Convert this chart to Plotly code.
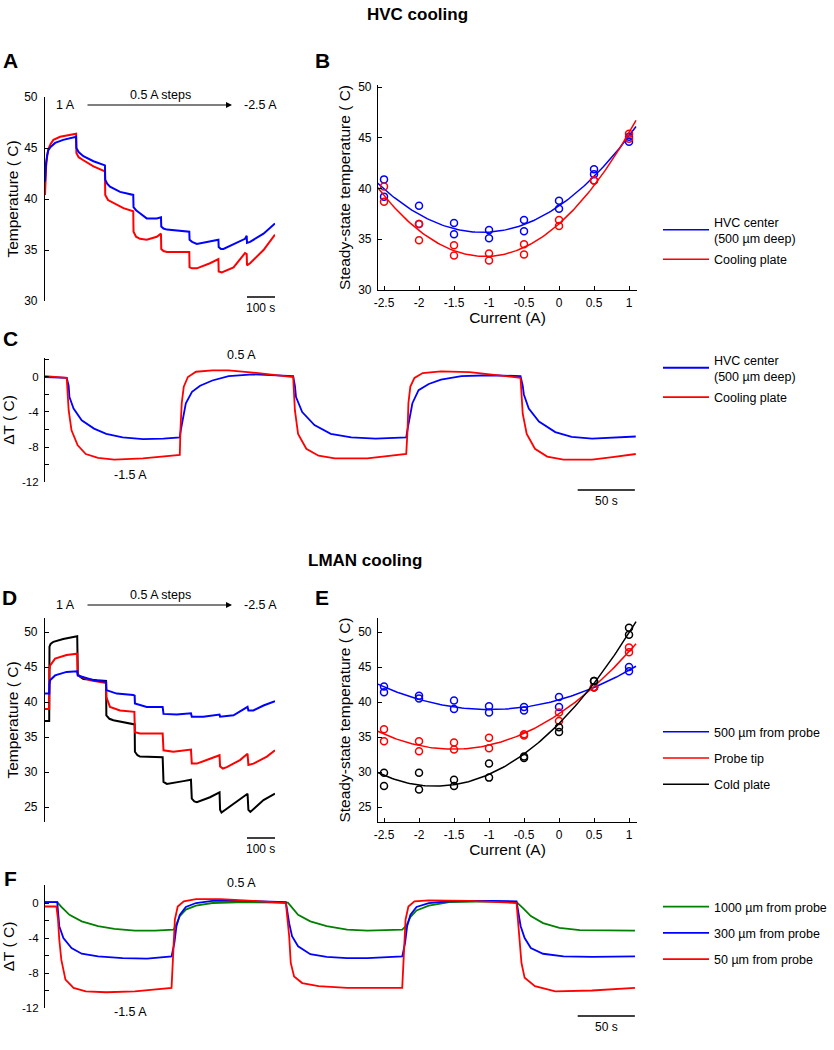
import numpy as np
import plotly.graph_objects as go

W, H = 834, 1050
FONT = "Arial, Liberation Sans, sans-serif"

COLORS = {
    "blue"  : "#0000FF",
    "red"   : "#FF0000",
    "green" : "#008000",
    "black" : "#000000",
}

# ---------------- A : HVC cooling, 0.5 A steps (time in s, temperature in C)
A_T_BLUE = [0, 2, 4, 8, 12, 20, 36, 65, 111,
            112, 120, 137, 173, 214,
            215, 222, 232, 268, 315,
            316, 325, 339, 363, 399, 414,
            415, 423, 435, 470, 515,
            516, 525, 542, 577, 619,
            620, 628, 637, 673, 714, 720,
            721, 732, 780, 821]
A_BLUE = [41.7, 42.8, 43.6, 44.3, 44.8, 45.1, 45.5, 45.8, 46.1,
          45.0, 44.6, 44.2, 43.7, 43.3,
          41.9, 41.5, 41.2, 40.7, 40.4,
          39.2, 38.9, 38.6, 38.1, 38.1, 38.2,
          37.3, 37.1, 37.0, 36.9, 36.8,
          36.0, 35.8, 35.6, 35.8, 36.0,
          35.3, 35.1, 35.1, 35.6, 36.1, 36.4,
          35.7, 35.8, 36.6, 37.6]
A_T_RED = [0, 2, 4, 8, 12, 20, 30, 54, 111,
           112, 120, 137, 173, 214,
           215, 225, 244, 280, 315,
           316, 325, 339, 363, 399, 414,
           415, 423, 435, 470, 515,
           516, 525, 542, 589, 619,
           620, 631, 673, 714, 720,
           721, 732, 780, 821]
A_RED = [40.4, 42.0, 43.2, 44.3, 44.9, 45.4, 45.8, 46.1, 46.4,
         44.5, 44.1, 43.8, 43.2, 42.7,
         40.4, 39.9, 39.6, 39.1, 38.8,
         36.8, 36.3, 36.1, 36.0, 36.3, 36.6,
         35.1, 34.9, 34.8, 34.8, 34.8,
         33.3, 33.2, 33.2, 33.7, 34.1,
         32.9, 32.8, 33.3, 34.7, 34.6,
         33.5, 33.7, 35.0, 36.5]

# ---------------- B : HVC steady state vs current
B_CURRENT = [-2.5, -2.5, -2, -2, -1.5, -1.5, -1, -1, -0.5, -0.5, 0, 0, 0.5, 0.5, 1, 1]
B_BLUE = [40.9, 39.2, 38.3, 36.5, 36.6, 35.5, 35.9, 35.1, 36.9, 35.8, 38.8, 38.0, 41.9, 41.4, 45.1, 44.6]
B_RED = [40.2, 38.7, 36.5, 34.9, 34.4, 33.4, 33.6, 32.9, 34.5, 33.5, 36.9, 36.3, 40.8, 40.8, 45.4, 44.9]

# ---------------- C : HVC, alternating -1.5 A / 0.5 A (delta T)
C_T_BLUE = [0, 19, 20.7, 21.4, 25, 32.1, 42.9, 53.6, 67.9, 85.7, 103.6, 117.9,
            118.9, 120.4, 123.2, 128.6, 135.7, 146.4, 160.7, 182, 203.6, 217.1,
            218.6, 219.6, 225, 235.7, 250, 267.9, 289.3, 316,
            317.1, 318.6, 321.4, 326.8, 335.7, 346.4, 364.3, 389.3, 416,
            417.9, 418.9, 423.2, 432.1, 446.4, 460.7, 478.6, 496.4, 516.8]
C_BLUE = [0, -0.1, -1.0, -2.3, -3.6, -4.95, -5.9, -6.5, -6.9, -7.1, -7.05, -6.9,
          -6.0, -5.0, -3.0, -1.7, -1.0, -0.4, 0.1, 0.3, 0.2, 0.1,
          -1.0, -2.3, -4.0, -5.5, -6.5, -6.9, -7.05, -6.9,
          -6.0, -5.0, -3.0, -1.5, -0.8, -0.3, 0.1, 0.2, 0.1,
          -1.0, -2.0, -3.6, -5.1, -6.3, -6.85, -7.05, -6.9, -6.8]
C_T_RED = [0, 19, 20.7, 23.2, 28.6, 35.7, 46.4, 60.7, 85.7, 117.9,
           118.5, 119.6, 121.4, 125, 132.1, 146.4, 160.7, 182, 217.1,
           218.6, 221.4, 228.6, 239.3, 253.6, 282, 316,
           317.2, 317.9, 319.6, 323.2, 330.4, 346.4, 371.4, 416,
           417.9, 421.4, 428.6, 439.3, 453.6, 478.6, 496.4, 516.8]
C_RED = [0.1, -0.1, -3.8, -6.1, -7.8, -8.8, -9.25, -9.45, -9.3, -8.9,
         -6.0, -3.0, -1.1, 0, 0.6, 0.75, 0.75, 0.5, 0,
         -3.8, -6.5, -8.2, -9.0, -9.3, -9.3, -8.8,
         -6.0, -3.0, -1.1, -0.1, 0.45, 0.65, 0.55, -0.1,
         -4.2, -6.5, -8.2, -9.1, -9.45, -9.45, -9.15, -8.8]

# ---------------- D : LMAN cooling, 0.5 A steps
D_T_BLACK = [0, 15, 16, 20, 30, 65, 115,
             117, 125, 137, 185, 218,
             219, 230, 244, 315, 320,
             321, 330, 339, 420,
             423, 435, 494, 521,
             524, 533, 542, 589, 623,
             625, 630, 673, 723,
             726, 733, 780, 821]
D_BLACK = [37.3, 37.3, 47.9, 48.3, 48.6, 49.0, 49.4,
           44.0, 43.6, 43.3, 43.1, 43.0,
           38.1, 37.6, 37.4, 36.9, 36.8,
           32.9, 32.4, 32.2, 32.1,
           28.6, 28.3, 28.7, 28.9,
           26.2, 25.8, 25.7, 26.4, 27.1,
           24.6, 24.2, 25.5, 26.9,
           24.6, 24.3, 26.0, 26.9]
D_T_RED = [0, 15, 16, 18, 36, 77, 115,
           117, 161, 218,
           219, 232, 268, 319,
           321, 339, 420,
           423, 458, 521,
           524, 542, 589, 623,
           625, 635, 649, 696, 723,
           726, 744, 792, 821]
D_RED = [39.0, 39.0, 44.5, 45.2, 46.2, 46.7, 46.9,
         43.8, 43.1, 42.7,
         40.7, 39.3, 38.8, 38.6,
         35.7, 35.5, 35.5,
         33.1, 32.9, 33.2,
         31.2, 31.2, 31.9, 32.4,
         30.8, 30.5, 30.7, 31.7, 32.6,
         31.0, 31.2, 32.2, 33.1]
D_T_BLUE = [0, 15, 16, 18, 36, 77, 115,
            117, 173, 218,
            219, 256, 315, 320,
            321, 363, 420,
            423, 470, 521,
            524, 565, 623,
            625, 673, 723,
            726, 744, 780, 821]
D_BLUE = [41.2, 41.2, 42.5, 43.1, 43.8, 44.3, 44.4,
          43.8, 43.1, 42.9,
          41.7, 41.2, 41.0, 40.9,
          39.8, 39.3, 39.3,
          38.3, 38.2, 38.4,
          37.9, 37.9, 38.2,
          37.9, 38.1, 39.3,
          38.8, 38.8, 39.5, 40.1]

# ---------------- E : LMAN steady state vs current
E_CURRENT = [-2.5, -2.5, -2, -2, -1.5, -1.5, -1, -1, -0.5, -0.5, 0, 0, 0.5, 0.5, 1, 1]
E_BLUE = [42.2, 41.4, 40.9, 40.5, 40.2, 39.0, 39.4, 38.5, 39.3, 38.8, 40.7, 39.3, 42.1, 42.1, 45.0, 44.4]
E_RED = [36.1, 34.4, 34.4, 32.95, 34.2, 33.2, 34.9, 33.4, 35.4, 35.2, 38.5, 37.3, 42.1, 42.1, 47.8, 47.1]
E_BLACK = [29.9, 28.0, 29.9, 27.5, 28.9, 28.0, 31.2, 29.2, 32.2, 32.0, 36.4, 35.7, 43.0, 43.0, 50.6, 49.6]

# ---------------- F : LMAN, alternating -1.5 A / 0.5 A
F_T_GREEN = [0, 10.7, 14.3, 21.4, 32.1, 46.4, 60.7, 78.6, 96.4, 112.5,
             114.3, 117.9, 123.2, 132.1, 146.4, 175, 212.5,
             216.1, 221.4, 232.1, 246.4, 264.3, 282.1, 312.5,
             316.1, 319.6, 325, 335.7, 353.6, 389.3, 412.5,
             417.9, 425, 435.7, 450, 467.9, 496.4, 516.1]
F_GREEN = [0.1, 0.1, -0.45, -1.35, -2.1, -2.65, -2.95, -3.15, -3.15, -3.05,
           -2.6, -1.5, -0.75, -0.3, 0, 0.1, 0.05,
           -0.55, -1.35, -2.1, -2.65, -3.05, -3.15, -3.05,
           -2.6, -1.6, -0.85, -0.3, 0.1, 0.2, 0.1,
           -0.55, -1.5, -2.3, -2.85, -3.1, -3.15, -3.15]
F_T_BLUE = [0, 10.7, 12.5, 16.1, 23.2, 32.1, 46.4, 67.9, 89.3, 110.7,
            113.2, 115, 117.9, 123.2, 132.1, 146.4, 175, 210.7,
            213.6, 216.1, 221.4, 232.1, 246.4, 264.3, 282.1, 312.5,
            315, 316.8, 319.6, 325, 335.7, 353.6, 389.3, 412.5,
            416.1, 419.6, 425, 435.7, 453.6, 478.6, 516.1]
F_BLUE = [0.1, 0.1, -2.65, -4.0, -5.15, -5.8, -6.1, -6.3, -6.35, -6.1,
          -4.55, -2.65, -1.35, -0.45, 0, 0.25, 0.25, 0.1,
          -2.3, -3.8, -4.95, -5.85, -6.15, -6.3, -6.3, -6.1,
          -4.55, -2.65, -1.35, -0.45, 0, 0.2, 0.25, 0.2,
          -2.65, -4.0, -5.15, -5.8, -6.1, -6.15, -6.1]
F_T_RED = [0, 10, 11.4, 12.5, 14.3, 17.9, 25, 35.7, 53.6, 78.6, 110.7,
           112.5, 113.6, 116.1, 121.4, 132.1, 153.6, 182, 210.7,
           213.6, 215, 217.9, 225, 239.3, 264.3, 312.5,
           314.3, 315.4, 317.9, 323.2, 335.7, 371.4, 412.5,
           415, 416.8, 419.6, 428.6, 446.4, 478.6, 516.1]
F_RED = [-0.4, -0.4, -1.9, -4.2, -6.5, -8.75, -9.7, -10.1, -10.2, -10.1, -9.7,
         -5.7, -1.9, -0.4, 0.2, 0.45, 0.45, 0.25, 0,
         -3.8, -6.85, -8.4, -9.15, -9.5, -9.7, -9.7,
         -5.7, -1.9, -0.4, 0.2, 0.3, 0.25, 0,
         -3.8, -6.85, -8.55, -9.5, -10.1, -10.0, -9.7]

CURRENT_TICKS = [-2.5, -2, -1.5, -1, -0.5, 0, 0.5, 1]
CURRENT_LABELS = ["-2.5", "-2", "-1.5", "-1", "-0.5", "0", "0.5", "1"]


def px(x):
    return x / W


def py(y):
    return 1 - y / H


def yaxis_style(top, bottom, rng, tickvals, ticktext, title, anchor, size=12, lab_off=3, title_off=3):
    return dict(
        domain=[py(bottom), py(top)], range=rng, anchor=anchor,
        tickvals=tickvals, ticktext=ticktext,
        ticks="inside", ticklen=4, tickwidth=1, tickcolor="black",
        showline=True, linecolor="black", linewidth=1.2,
        showgrid=False, zeroline=False, automargin=False,
        tickfont=dict(size=size, color="black"), ticklabelstandoff=lab_off,
        title=dict(text=title, font=dict(size=15.5, color="black"), standoff=title_off),
    )


def xaxis_hidden(left, right, rng, anchor):
    return dict(domain=[px(left), px(right)], range=rng, anchor=anchor, visible=False)


def xaxis_current(anchor):
    return dict(
        domain=[px(378), px(637)], range=[-2.586, 1.114], anchor=anchor,
        tickvals=CURRENT_TICKS, ticktext=CURRENT_LABELS,
        ticks="inside", ticklen=4, tickwidth=1, tickcolor="black",
        showline=True, linecolor="black", linewidth=1.2,
        showgrid=False, zeroline=False, automargin=False,
        tickfont=dict(size=12, color="black"), ticklabelstandoff=1,
        title=dict(text="Current (A)", font=dict(size=15.5, color="black"), standoff=2),
    )


def trace_line(t, v, color, xa, ya, name=None, legend=None, width=1.8):
    return go.Scatter(
        x=t, y=v, mode="lines", xaxis=xa, yaxis=ya,
        line=dict(color=color, width=width),
        name=name, legend=legend, legendgroup=name,
        showlegend=legend is not None,
    )


def fit_traces(cur, vals, color, xa, ya, name, legend):
    coef = np.polyfit(cur, vals, 2)
    xs = np.linspace(-2.6, 1.1, 120)
    pts = go.Scatter(
        x=cur, y=vals, mode="markers", xaxis=xa, yaxis=ya, showlegend=False,
        marker=dict(symbol="circle-open", size=7, color=color, line=dict(width=1.5, color=color)),
    )
    fit = go.Scatter(
        x=xs, y=np.polyval(coef, xs), mode="lines", xaxis=xa, yaxis=ya,
        line=dict(color=color, width=1.5), name=name, legend=legend,
        legendgroup=name + legend, showlegend=True,
    )
    return [pts, fit]


fig = go.Figure()

# A
fig.add_trace(trace_line(A_T_RED, A_RED, COLORS["red"], "x", "y", width=2))
fig.add_trace(trace_line(A_T_BLUE, A_BLUE, COLORS["blue"], "x", "y", width=2))

# B
for tr in fit_traces(B_CURRENT, B_BLUE, COLORS["blue"], "x2", "y2", "HVC center<br>(500 µm deep)", "legend"):
    fig.add_trace(tr)
for tr in fit_traces(B_CURRENT, B_RED, COLORS["red"], "x2", "y2", "Cooling plate", "legend"):
    fig.add_trace(tr)

# C
fig.add_trace(trace_line(C_T_BLUE, C_BLUE, COLORS["blue"], "x3", "y3", "HVC center<br>(500 µm deep)", "legend2"))
fig.add_trace(trace_line(C_T_RED, C_RED, COLORS["red"], "x3", "y3", "Cooling plate", "legend2"))

# D
fig.add_trace(trace_line(D_T_BLACK, D_BLACK, COLORS["black"], "x4", "y4", width=2))
fig.add_trace(trace_line(D_T_RED, D_RED, COLORS["red"], "x4", "y4", width=2))
fig.add_trace(trace_line(D_T_BLUE, D_BLUE, COLORS["blue"], "x4", "y4", width=2))

# E
for tr in fit_traces(E_CURRENT, E_BLUE, COLORS["blue"], "x5", "y5", "500 µm from probe", "legend3"):
    fig.add_trace(tr)
for tr in fit_traces(E_CURRENT, E_RED, COLORS["red"], "x5", "y5", "Probe tip", "legend3"):
    fig.add_trace(tr)
for tr in fit_traces(E_CURRENT, E_BLACK, COLORS["black"], "x5", "y5", "Cold plate", "legend3"):
    fig.add_trace(tr)

# F
fig.add_trace(trace_line(F_T_GREEN, F_GREEN, COLORS["green"], "x6", "y6", "1000 µm from probe", "legend4"))
fig.add_trace(trace_line(F_T_BLUE, F_BLUE, COLORS["blue"], "x6", "y6", "300 µm from probe", "legend4"))
fig.add_trace(trace_line(F_T_RED, F_RED, COLORS["red"], "x6", "y6", "50 µm from probe", "legend4"))

temp_ticks = [30, 35, 40, 45, 50]
lman_ticks = [25, 30, 35, 40, 45, 50]
dt_ticks = [-12, -10, -8, -6, -4, -2, 0, 2]
dt_labels = ["-12", "", "-8", "", "-4", "", "0", ""]

legend_base = dict(
    bgcolor="rgba(0,0,0,0)", font=dict(size=12.5, color="black"),
    xanchor="left", yanchor="top", itemwidth=46, itemclick=False,
)

fig.update_layout(
    width=W, height=H,
    margin=dict(l=0, r=0, t=0, b=0),
    paper_bgcolor="white", plot_bgcolor="white",
    font=dict(family=FONT, color="black"),
    xaxis=xaxis_hidden(45, 275, [0, 821], "y"),
    yaxis=yaxis_style(97, 301, [30, 50], temp_ticks, [str(v) for v in temp_ticks],
                      "Temperature ( C)", "x", lab_off=4, title_off=1),
    xaxis2=xaxis_current("y2"),
    yaxis2=yaxis_style(85, 290, [30, 50.2], temp_ticks, [str(v) for v in temp_ticks],
                       "Steady-state temperature ( C)", "x2", lab_off=3, title_off=3),
    xaxis3=xaxis_hidden(45, 636, [0, 517], "y3"),
    yaxis3=yaxis_style(358, 482, [-12, 2.17], dt_ticks, dt_labels, "ΔT ( C)", "x3", size=11.5),
    xaxis4=xaxis_hidden(45, 275, [0, 821], "y4"),
    yaxis4=yaxis_style(618, 822, [22.86, 52], lman_ticks, [str(v) for v in lman_ticks],
                       "Temperature ( C)", "x4", lab_off=4, title_off=1),
    xaxis5=xaxis_current("y5"),
    yaxis5=yaxis_style(618, 822, [22.86, 52], lman_ticks, [str(v) for v in lman_ticks],
                       "Steady-state temperature ( C)", "x5", lab_off=3, title_off=3),
    xaxis6=xaxis_hidden(45, 636, [0, 517], "y6"),
    yaxis6=yaxis_style(885, 1008, [-12, 2.06], dt_ticks, dt_labels, "ΔT ( C)", "x6", size=11.5),
    legend=dict(legend_base, x=px(658), y=py(207), tracegroupgap=2),
    legend2=dict(legend_base, x=px(658), y=py(345), tracegroupgap=2),
    legend3=dict(legend_base, x=px(658), y=py(717), tracegroupgap=7),
    legend4=dict(legend_base, x=px(658), y=py(892), tracegroupgap=7),
)


def note(x, y, text, size=12.5, bold=False, xanchor="center"):
    fig.add_annotation(
        x=px(x), y=py(y), xref="paper", yref="paper", text=f"<b>{text}</b>" if bold else text,
        showarrow=False, xanchor=xanchor, yanchor="middle",
        font=dict(size=size, color="black", family=FONT),
    )


# section titles and panel letters
note(417, 15, "HVC cooling", size=17, bold=True)
note(365, 560, "LMAN cooling", size=17, bold=True)
for letter, x, y in [("A", 10, 61), ("B", 322, 60), ("C", 10, 338),
                     ("D", 9, 597), ("E", 322, 597), ("F", 10, 878)]:
    note(x, y, letter, size=21, bold=True)

# step protocol labels for A and D
for yrow in (105, 605):
    note(65, yrow, "1 A")
    note(160, yrow - 10, "0.5 A steps")
    note(260, yrow, "-2.5 A")
    fig.add_annotation(
        x=px(232), y=py(yrow), ax=-146, ay=0,
        xref="paper", yref="paper", axref="pixel", ayref="pixel",
        text="", showarrow=True, arrowhead=2, arrowsize=1, arrowwidth=1.2, arrowcolor="black",
    )

# current labels for C and F
note(242, 355, "0.5 A")
note(130, 475, "-1.5 A")
note(242, 883, "0.5 A")
note(130, 1012, "-1.5 A")

# scale bars
for xa, x0, x1, ybar, label in [("x", 721, 821, 297, "100 s"), ("x4", 721, 821, 838, "100 s"),
                                ("x3", 466, 516, 490, "50 s"), ("x6", 466, 516, 1016, "50 s")]:
    fig.add_shape(type="line", xref=xa, yref="paper", x0=x0, x1=x1, y0=py(ybar), y1=py(ybar),
                  line=dict(color="black", width=1.5))
    fig.add_annotation(x=(x0 + x1) / 2, y=py(ybar + 11), xref=xa, yref="paper", text=label,
                       showarrow=False, yanchor="middle", font=dict(size=12, color="black"))

# drop the browser's default body margin so the figure sits at the page origin
fig.write_html("out.html", config={"displayModeBar": False},
               post_script="document.body.style.margin = '0';")
